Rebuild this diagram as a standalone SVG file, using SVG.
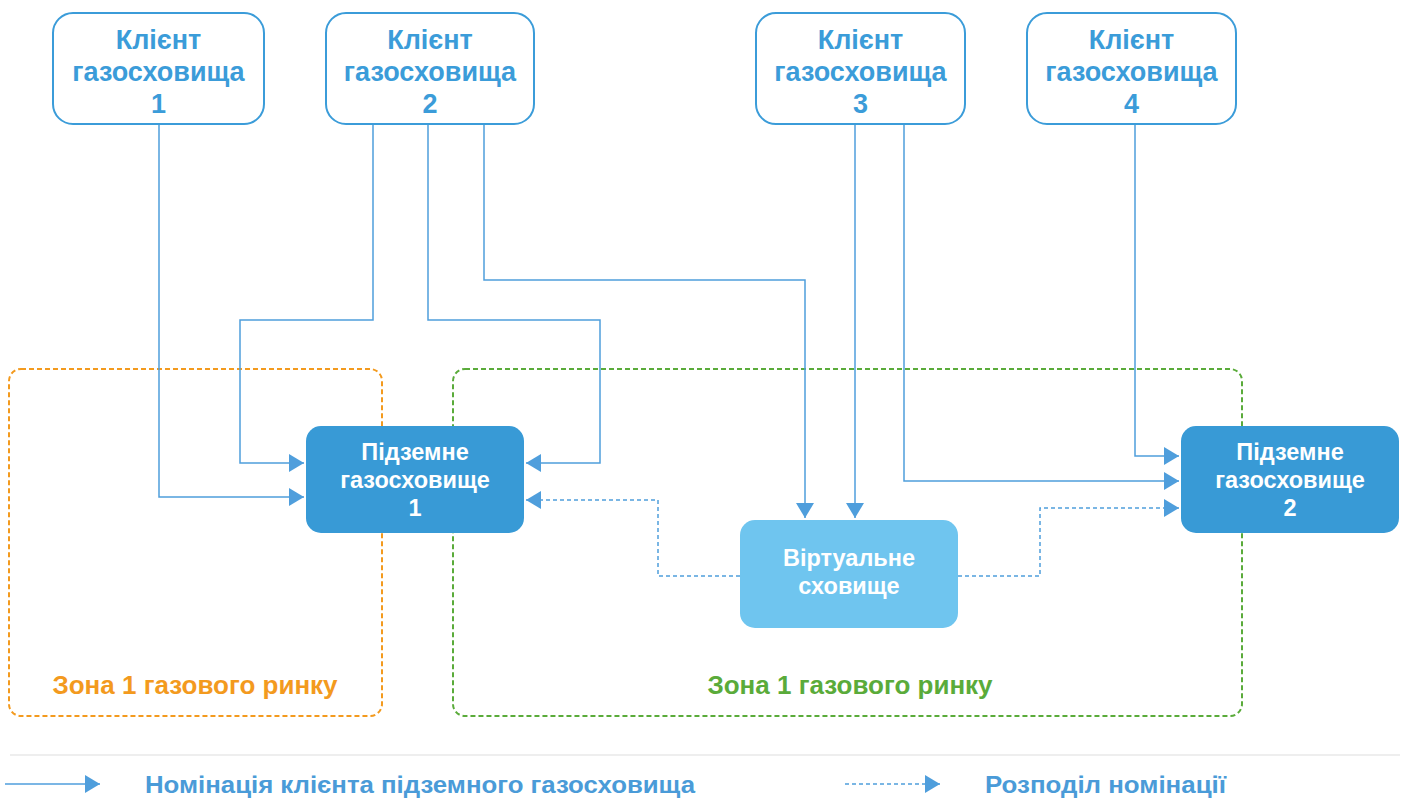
<svg xmlns="http://www.w3.org/2000/svg" width="1408" height="798" viewBox="0 0 1408 798">
<style>
text{font-family:"Liberation Sans",Arial,sans-serif;font-weight:bold;text-anchor:middle}
.client rect{fill:#fff;stroke:#3b9cd9;stroke-width:2}
.client text{fill:#3b9cd9;font-size:27px}
.store rect{fill:#389ad6}
.virt rect{fill:#6fc5ef}
.store text,.virt text{fill:#fff;font-size:23.5px}
.zone{fill:none;stroke-width:2;stroke-dasharray:5 3}
.c{fill:none;stroke:#4f9edc;stroke-width:1.5}
.d{fill:none;stroke:#4f9edc;stroke-width:1.5;stroke-dasharray:4 3}
.leg{fill:#4a9bd8;font-size:24px;text-anchor:start}
</style>
<defs>
<marker id="ah" viewBox="0 0 15 18" refX="15" refY="9" markerWidth="15" markerHeight="18" markerUnits="userSpaceOnUse" orient="auto">
<path d="M0,0 L15,9 L0,18 Z" fill="#4f9edc"/>
</marker>
</defs>
<g id="zone1">
<rect class="zone" x="9" y="369" width="373" height="347" rx="12" stroke="#f39a1e"/>
<text x="195" y="694" fill="#f39a1e" font-size="26">Зона 1 газового ринку</text>
</g>
<g id="zone2">
<rect class="zone" x="453" y="369" width="789" height="347" rx="12" stroke="#5aab3a"/>
<text x="850" y="694" fill="#5aab3a" font-size="26">Зона 1 газового ринку</text>
</g>
<g id="connectors">
<polyline class="c" points="159,124 159,497 304,497" marker-end="url(#ah)"/>
<polyline class="c" points="373,124 373,320 240,320 240,463 304,463" marker-end="url(#ah)"/>
<polyline class="c" points="428,124 428,320 600,320 600,463 526,463" marker-end="url(#ah)"/>
<polyline class="c" points="484,124 484,280 805,280 805,518" marker-end="url(#ah)"/>
<polyline class="c" points="855,124 855,518" marker-end="url(#ah)"/>
<polyline class="c" points="904,124 904,481 1179,481" marker-end="url(#ah)"/>
<polyline class="c" points="1135,124 1135,456 1179,456" marker-end="url(#ah)"/>
<polyline class="d" points="740,576 658,576 658,500 526,500" marker-end="url(#ah)"/>
<polyline class="d" points="958,576 1040,576 1040,508 1179,508" marker-end="url(#ah)"/>
</g>
<g id="client1" class="client">
<rect x="53" y="13" width="211" height="111" rx="20"/>
<text x="158.5" y="49">Клієнт</text><text x="158.5" y="81">газосховища</text><text x="158.5" y="113">1</text>
</g>
<g id="client2" class="client">
<rect x="326" y="13" width="208" height="111" rx="20"/>
<text x="430" y="49">Клієнт</text><text x="430" y="81">газосховища</text><text x="430" y="113">2</text>
</g>
<g id="client3" class="client">
<rect x="756" y="13" width="209" height="111" rx="20"/>
<text x="860.5" y="49">Клієнт</text><text x="860.5" y="81">газосховища</text><text x="860.5" y="113">3</text>
</g>
<g id="client4" class="client">
<rect x="1027" y="13" width="209" height="111" rx="20"/>
<text x="1131.5" y="49">Клієнт</text><text x="1131.5" y="81">газосховища</text><text x="1131.5" y="113">4</text>
</g>
<g id="storage1" class="store">
<rect x="306" y="426" width="218" height="107" rx="15"/>
<text x="415" y="460">Підземне</text><text x="415" y="488">газосховище</text><text x="415" y="516">1</text>
</g>
<g id="storage2" class="store">
<rect x="1181" y="426" width="218" height="107" rx="15"/>
<text x="1290" y="460">Підземне</text><text x="1290" y="488">газосховище</text><text x="1290" y="516">2</text>
</g>
<g id="virtual" class="virt">
<rect x="740" y="520" width="218" height="108" rx="15"/>
<text x="849" y="566">Віртуальне</text><text x="849" y="594">сховище</text>
</g>
<g id="legend">
<line x1="10" y1="755" x2="1400" y2="755" stroke="#e8e8e8" stroke-width="1.5"/>
<line x1="5" y1="784" x2="100" y2="784" class="c" marker-end="url(#ah)"/>
<text class="leg" x="145" y="793" textLength="550" lengthAdjust="spacingAndGlyphs">Номінація клієнта підземного газосховища</text>
<line x1="845" y1="784" x2="940" y2="784" class="d" stroke-dasharray="3 2" marker-end="url(#ah)"/>
<text class="leg" x="985" y="793" textLength="241" lengthAdjust="spacingAndGlyphs">Розподіл номінації</text>
</g>
</svg>
